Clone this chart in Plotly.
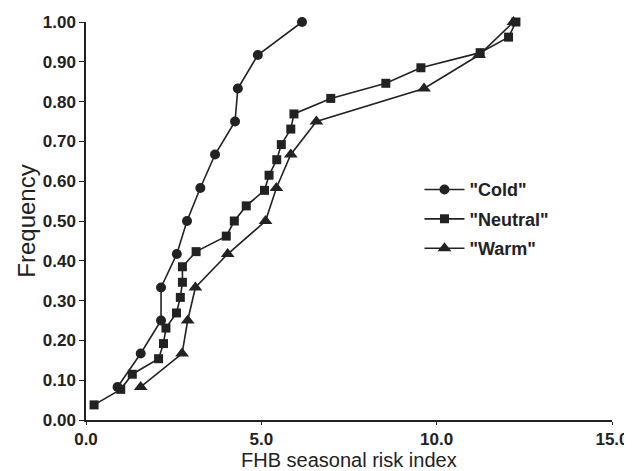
import plotly.graph_objects as go

cold_x = [0.90, 1.56, 2.14, 2.14, 2.59, 2.88, 3.26, 3.68, 4.25, 4.33, 4.90, 6.16]
cold_y = [0.083, 0.167, 0.250, 0.333, 0.417, 0.500, 0.583, 0.667, 0.750, 0.833, 0.917, 1.000]

neutral_x = [0.23, 0.99, 1.32, 2.07, 2.21, 2.28, 2.58, 2.69, 2.75, 2.75, 3.14, 4.00, 4.23,
             4.57, 5.09, 5.22, 5.44, 5.57, 5.84, 5.93, 6.98, 8.55, 9.55, 11.24, 12.05, 12.26]
neutral_y = [0.038, 0.077, 0.115, 0.154, 0.192, 0.231, 0.269, 0.308, 0.346, 0.385, 0.423,
             0.462, 0.500, 0.538, 0.577, 0.615, 0.654, 0.692, 0.731, 0.769, 0.808, 0.846,
             0.885, 0.923, 0.962, 1.000]

warm_x = [1.56, 2.74, 2.90, 3.12, 4.04, 5.12, 5.43, 5.84, 6.57, 9.64, 11.21, 12.19]
warm_y = [0.083, 0.167, 0.250, 0.333, 0.417, 0.500, 0.583, 0.667, 0.750, 0.833, 0.917, 1.000]

x_ticks = [0, 5, 10, 15]
x_ticklabels = ["0.0", "5.0", "10.0", "15.0"]
y_ticks = [i / 10 for i in range(11)]
y_ticklabels = ["%.2f" % v for v in y_ticks]
x_title = "FHB seasonal risk index"
y_title = "Frequency"

INK = "#222222"
FONT = "Liberation Sans, Arial, sans-serif"

fig = go.Figure()
series = [
    ('"Cold"', cold_x, cold_y, "circle", 10),
    ('"Neutral"', neutral_x, neutral_y, "square", 9),
    ('"Warm"', warm_x, warm_y, "triangle-up", 12),
]
for i, (name, xs, ys, sym, sz) in enumerate(series):
    fig.add_trace(go.Scatter(
        x=xs, y=ys, name=name, mode="lines+markers",
        line=dict(color=INK, width=1.6),
        marker=dict(symbol=sym, size=sz, color=INK, line=dict(width=0)),
        cliponaxis=False, legendgroup=f"g{i}",
    ))

# page body has an 8px default margin, so margins are offset by 8px
fig.update_layout(
    width=632, height=471,
    margin=dict(l=78, r=28, t=14, b=59),
    paper_bgcolor="white", plot_bgcolor="white",
    font=dict(family=FONT, size=16, color=INK),
    showlegend=True,
    legend=dict(x=0.634, y=0.625, xanchor="left", yanchor="top",
                bgcolor="rgba(0,0,0,0)",
                font=dict(size=18, color=INK, weight="bold"),
                traceorder="grouped", tracegroupgap=3, itemwidth=40),
    xaxis=dict(range=[0, 15], tickvals=x_ticks, ticktext=x_ticklabels,
               showgrid=False, zeroline=False, showline=True, linecolor=INK,
               linewidth=1.5, ticks="outside", ticklen=3, tickcolor=INK,
               automargin=False,
               tickfont=dict(size=17, weight="bold")),
    yaxis=dict(range=[0, 1.0], tickvals=y_ticks, ticktext=y_ticklabels,
               showgrid=False, zeroline=False, showline=True, linecolor=INK,
               linewidth=1.5, ticks="outside", ticklen=5, tickcolor=INK,
               automargin=False,
               tickfont=dict(size=17, weight="bold"),
               title=dict(text=y_title, font=dict(size=24), standoff=0)),
    annotations=[dict(text=x_title, xref="paper", yref="paper", x=0.5, y=0,
                      xanchor="center", yanchor="middle", yshift=-40,
                      borderpad=0, showarrow=False,
                      font=dict(size=20, color=INK))],
)

fig.write_html("out.html")
